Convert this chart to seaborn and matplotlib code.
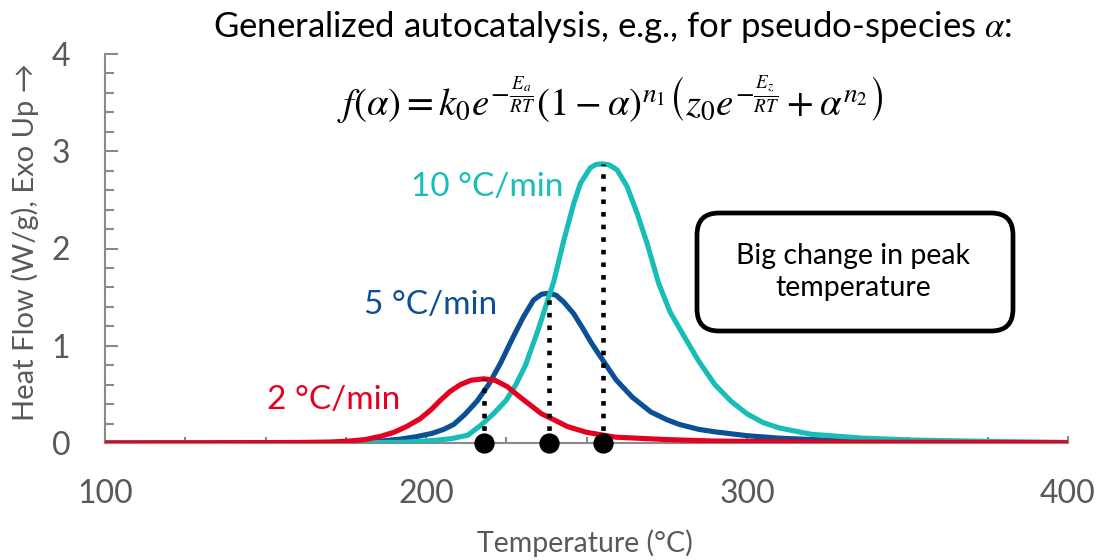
import numpy as np
import pandas as pd
import matplotlib
matplotlib.use("Agg")
import matplotlib.pyplot as plt
from matplotlib.ticker import MultipleLocator
from matplotlib.patches import FancyBboxPatch
import seaborn as sns

# ---- data ----
T_red = [100, 160, 170, 176, 181, 186, 190, 194, 198.2, 201.5, 204.5, 207.5, 210.7, 214, 218,
         221.5, 225.3, 229, 232.5, 236, 239.8, 244, 250, 259, 275, 290, 320, 400]
H_red = [0, 0.005, 0.01, 0.02, 0.035, 0.07, 0.11, 0.17, 0.25, 0.34, 0.44, 0.53, 0.60, 0.645, 0.66,
         0.645, 0.58, 0.48, 0.39, 0.30, 0.24, 0.17, 0.11, 0.06, 0.035, 0.02, 0.01, 0.003]

T_blue = [100, 170, 180, 186, 192, 197, 202, 205.5, 208.6, 212, 215.9, 219.5, 223.2, 227, 230.4,
          233.5, 236, 238.2, 240.5, 242.9, 246, 249, 251.5, 254.3, 259.2, 264.3, 270, 275, 279, 285,
          290, 300, 310, 326, 341, 370, 400]
H_blue = [0, 0.002, 0.01, 0.02, 0.04, 0.065, 0.10, 0.14, 0.19, 0.29, 0.43, 0.60, 0.82, 1.08, 1.30,
          1.47, 1.53, 1.54, 1.52, 1.45, 1.33, 1.17, 1.03, 0.89, 0.65, 0.47, 0.32, 0.24, 0.19, 0.14,
          0.115, 0.075, 0.05, 0.027, 0.013, 0.004, 0.001]

T_teal = [100, 190, 196, 202, 208, 213, 217, 221, 225, 228, 231, 235, 239.8, 242.9, 246, 248.1,
          251.2, 253, 255, 257, 259.5, 262.6, 265.8, 268.9, 272.5, 276, 280, 285, 290, 295, 300,
          305, 310, 320, 336, 352, 378, 400]
H_teal = [0, 0.005, 0.012, 0.025, 0.045, 0.08, 0.18, 0.30, 0.44, 0.60, 0.80, 1.17, 1.66, 2.08,
          2.46, 2.67, 2.83, 2.865, 2.87, 2.86, 2.81, 2.64, 2.36, 2.05, 1.64, 1.35, 1.12, 0.84, 0.60,
          0.43, 0.30, 0.21, 0.155, 0.09, 0.05, 0.03, 0.015, 0.006]

peak_T = [218, 238.2, 255]
peak_H = [0.66, 1.54, 2.87]

series_labels = ["2 °C/min", "5 °C/min", "10 °C/min"]
x_ticks = [100, 200, 300, 400]
y_ticks = [0, 1, 2, 3, 4]

RED = "#E6001F"
BLUE = "#0B4F94"
TEAL = "#17BDB6"
GRAY_TXT = "#595959"
GRAY_AX = "#8A8A8A"
LW = 3.7

sns.set_theme(style="white")
plt.rcParams["font.family"] = ["Lato", "DejaVu Sans"]
plt.rcParams["mathtext.fontset"] = "stix"

fig = plt.figure(figsize=(10.97, 5.60), dpi=100)
ax = fig.add_axes([105 / 1097, 1 - 443 / 560, (1068 - 105) / 1097, (443 - 54) / 560])

df_blue = pd.DataFrame({"T": T_blue, "H": H_blue})
df_teal = pd.DataFrame({"T": T_teal, "H": H_teal})
df_red = pd.DataFrame({"T": T_red, "H": H_red})

sns.lineplot(data=df_blue, x="T", y="H", color=BLUE, lw=LW, estimator=None, ax=ax, zorder=3)
sns.lineplot(data=df_teal, x="T", y="H", color=TEAL, lw=LW, estimator=None, ax=ax, zorder=3)
sns.lineplot(data=df_red, x="T", y="H", color=RED, lw=LW, estimator=None, ax=ax, zorder=3)

ax.vlines(peak_T, 0, peak_H, colors="black", linestyles=(0, (1, 1.75)), lw=3.3, zorder=4)
ax.scatter(peak_T, [0] * len(peak_T), s=185, color="black", zorder=5, clip_on=False)

ax.set_xlim(100, 400)
ax.set_ylim(0, 4)
ax.set_xticks(x_ticks)
ax.set_yticks(y_ticks)
ax.xaxis.set_minor_locator(MultipleLocator(25))
ax.yaxis.set_minor_locator(MultipleLocator(0.2))
ax.tick_params(axis="x", which="major", direction="in", length=5, width=1.5, color=GRAY_AX,
               labelsize=23, labelcolor=GRAY_TXT, pad=26, bottom=True)
ax.tick_params(axis="x", which="minor", direction="in", length=4, width=1.5, color=GRAY_AX, bottom=True)
ax.tick_params(axis="y", which="major", direction="in", length=9, width=1.5, color=GRAY_AX,
               labelsize=23, labelcolor=GRAY_TXT, pad=25, left=True)
ax.tick_params(axis="y", which="minor", direction="in", length=6.5, width=1.5, color=GRAY_AX, left=True)

for s in ["top", "right"]:
    ax.spines[s].set_visible(False)
for s in ["left", "bottom"]:
    ax.spines[s].set_color(GRAY_AX)
    ax.spines[s].set_linewidth(1.5)

ax.set_xlabel("")
ax.set_ylabel("")
fig.text(585 / 1097, 1 - 543 / 560, "Temperature (°C)", ha="center", va="center",
         fontsize=20.5, color=GRAY_TXT)
fig.text(25 / 1097, 1 - 242 / 560, "Heat Flow (W/g), Exo Up →", ha="center", va="center",
         rotation=90, fontsize=21, color=GRAY_TXT)

# series labels
ax.text(219, 2.63, series_labels[2], color=TEAL, fontsize=24, ha="center", va="center")
ax.text(201.3, 1.42, series_labels[1], color=BLUE, fontsize=24, ha="center", va="center")
ax.text(171.1, 0.44, series_labels[0], color=RED, fontsize=24, ha="center", va="center")

# title and equation
fig.text(613 / 1097, 1 - 27 / 560, r"Generalized autocatalysis, e.g., for pseudo-species $\alpha$:",
         ha="center", va="center", fontsize=25, color="black")
fig.text(610 / 1097, 1 - 100 / 560,
         r"$f(\alpha) = k_0 e^{-\frac{E_a}{RT}}(1-\alpha)^{n_1}\left(z_0 e^{-\frac{E_z}{RT}} + \alpha^{n_2}\right)$",
         ha="center", va="center", fontsize=28, color="black")

# annotation box
box = FancyBboxPatch((697 / 1097, 1 - 331 / 560), 316 / 1097, 118 / 560,
                     boxstyle="round,pad=0,rounding_size=0.02", transform=fig.transFigure,
                     mutation_aspect=1097 / 560, fc="white", ec="black", lw=3.4, zorder=6)
fig.patches.append(box)
fig.text(853 / 1097, 1 - 272 / 560, "Big change in peak\ntemperature", ha="center", va="center",
         fontsize=20.5, color="black", linespacing=1.3, zorder=7)

fig.savefig("out.png", dpi=100)
